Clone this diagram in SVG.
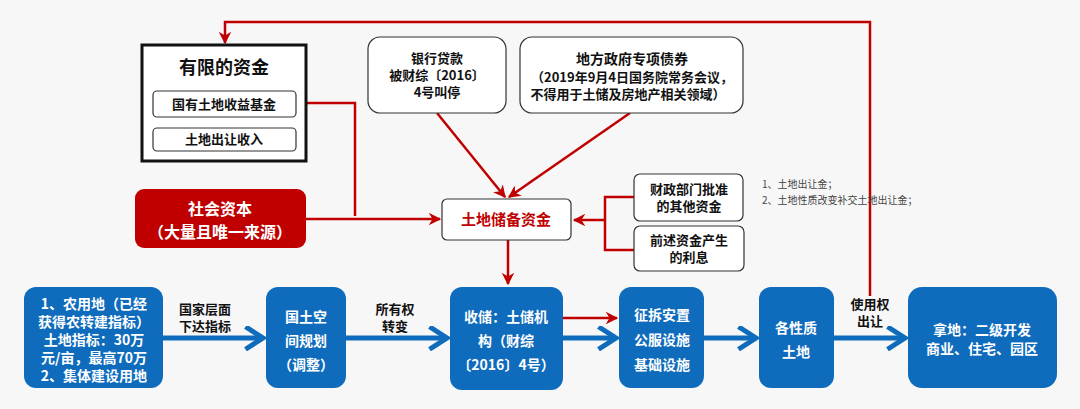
<svg xmlns="http://www.w3.org/2000/svg" width="1080" height="409" viewBox="0 0 1080 409">
<defs>
<style>
text{font-family:"Noto Sans CJK SC","Liberation Sans",sans-serif;font-weight:bold;text-anchor:middle}
.blk{fill:#111;font-size:13px}
.wt{fill:#fff;font-size:14px}
.bx{fill:#0f6cbd}
.wb{fill:#fff;stroke:#333;stroke-width:1.2}
.red{stroke:#c00000;stroke-width:2.5;fill:none}
.blue{stroke:#0f6cbd;stroke-width:5;fill:none}
.note{font-weight:normal;font-size:10px;fill:#444;text-anchor:start}
</style>
<marker id="ra" viewBox="0 0 10 10" refX="9" refY="5" markerWidth="5" markerHeight="5" orient="auto"><path d="M0,0 L10,5 L0,10 L3,5 z" fill="#c00000"/></marker>
<marker id="ba" viewBox="0 0 10 10" refX="8" refY="5" markerWidth="5" markerHeight="5" orient="auto"><path d="M1,0.5 L8,5 L1,9.5" fill="none" stroke="#0f6cbd" stroke-width="2"/></marker>
</defs>
<rect width="1080" height="409" fill="#f7f7f7"/>
<g id="connectors">
<path class="red" d="M870,296 V22 H225 V43" marker-end="url(#ra)"/>
<path class="red" d="M306,103 H355 V216"/>
<path class="red" d="M306,219 H440" stroke-width="3" marker-end="url(#ra)"/>
<path class="red" d="M437,113 L505,197" marker-end="url(#ra)"/>
<path class="red" d="M630,113 L509,197" marker-end="url(#ra)"/>
<path class="red" d="M634,197 H605 V250 H634 M605,220 H574" stroke-width="3" marker-end="url(#ra)"/>
<path class="red" d="M508,240 V284" stroke-width="5" marker-end="url(#ra)"/>
<path class="red" d="M563,318 H617" stroke-width="2.5" marker-end="url(#ra)"/>
<path class="blue" d="M163,338 H263" marker-end="url(#ba)"/>
<path class="blue" d="M346,338 H447" marker-end="url(#ba)"/>
<path class="blue" d="M563,338 H616" marker-end="url(#ba)"/>
<path class="blue" d="M704,338 H756" marker-end="url(#ba)"/>
<path class="blue" d="M834,338 H905" marker-end="url(#ba)"/>
<text class="blk" x="205" y="314">国家层面</text><text class="blk" x="205" y="331">下达指标</text>
<text class="blk" x="395" y="314">所有权</text><text class="blk" x="395" y="331">转变</text>
<text class="blk" x="870" y="309">使用权</text><text class="blk" x="870" y="326">出让</text>
</g>
<g id="limited"><rect x="142" y="45" width="164" height="116" fill="#fff" stroke="#111" stroke-width="3"/>
<text class="blk" x="224" y="74" style="font-size:18px">有限的资金</text>
<rect class="wb" x="153" y="91" width="143" height="26" rx="4"/><text class="blk" x="224" y="109">国有土地收益基金</text>
<rect class="wb" x="153" y="128" width="143" height="23" rx="4"/><text class="blk" x="224" y="144">土地出让收入</text></g>
<g id="social"><rect x="135" y="189" width="171" height="59" rx="9" fill="#c00000"/>
<text class="wt" x="220" y="215" style="font-size:16px">社会资本</text><text class="wt" x="220" y="238" style="font-size:16px">（大量且唯一来源）</text></g>
<g id="fund"><rect class="wb" x="442" y="199" width="129" height="41" rx="5"/><text x="506" y="225" font-size="15" fill="#c00000">土地储备资金</text></g>
<g id="bank"><rect class="wb" x="368" y="37" width="138" height="76" rx="12"/>
<text class="blk" x="437" y="63">银行贷款</text><text class="blk" x="437" y="80">被财综〔2016〕</text><text class="blk" x="437" y="97">4号叫停</text></g>
<g id="bond"><rect class="wb" x="520" y="37" width="223" height="76" rx="12"/>
<text class="blk" x="632" y="64" style="font-size:14px">地方政府专项债券</text><text class="blk" x="632" y="82">（2019年9月4日国务院常务会议，</text><text class="blk" x="628" y="99">不得用于土储及房地产相关领域）</text></g>
<g id="other"><rect class="wb" x="634" y="174" width="109" height="47" rx="6"/>
<text class="blk" x="689" y="194">财政部门批准</text><text class="blk" x="689" y="211">的其他资金</text></g>
<g id="interest"><rect class="wb" x="634" y="226" width="110" height="45" rx="6"/>
<text class="blk" x="689" y="245">前述资金产生</text><text class="blk" x="689" y="262">的利息</text></g>
<g id="note"><text class="note" x="762" y="188">1、土地出让金；</text><text class="note" x="762" y="204">2、土地性质改变补交土地出让金；</text></g>
<g id="b1"><rect class="bx" x="24" y="287" width="139" height="101" rx="12"/>
<text class="wt" x="94" y="309">1、农用地（已经</text><text class="wt" x="94" y="327">获得农转建指标）</text><text class="wt" x="94" y="345">土地指标：30万</text><text class="wt" x="94" y="363">元/亩，最高70万</text><text class="wt" x="94" y="381">2、集体建设用地</text></g>
<g id="b2"><rect class="bx" x="266" y="287" width="80" height="101" rx="12"/>
<text class="wt" x="306" y="322">国土空</text><text class="wt" x="306" y="346">间规划</text><text class="wt" x="306" y="370">（调整）</text></g>
<g id="b3"><rect class="bx" x="450" y="287" width="113" height="103" rx="12"/>
<text class="wt" x="506" y="322">收储：土储机</text><text class="wt" x="506" y="346">构（财综</text><text class="wt" x="506" y="370">〔2016〕4号）</text></g>
<g id="b4"><rect class="bx" x="619" y="287" width="85" height="101" rx="12"/>
<text class="wt" x="662" y="320">征拆安置</text><text class="wt" x="662" y="345">公服设施</text><text class="wt" x="662" y="370">基础设施</text></g>
<g id="b5"><rect class="bx" x="759" y="287" width="75" height="101" rx="12"/>
<text class="wt" x="796" y="333">各性质</text><text class="wt" x="796" y="357">土地</text></g>
<g id="b6"><rect class="bx" x="908" y="287" width="149" height="101" rx="14"/>
<text class="wt" x="982" y="335">拿地：二级开发</text><text class="wt" x="982" y="354">商业、住宅、园区</text></g>
</svg>
